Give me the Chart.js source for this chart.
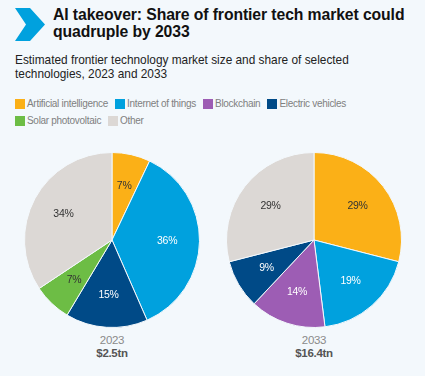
<!DOCTYPE html>
<html>
<head>
<meta charset="utf-8">
<script src="https://cdn.jsdelivr.net/npm/chart.js@4/dist/chart.umd.min.js"></script>
<style>
  html, body { margin:0; padding:0; }
  body { width:425px; height:376px; background:#f3f8fc; position:relative; overflow:hidden; font-family:"Liberation Sans", Arial, sans-serif; }
  #chev { position:absolute; left:15px; top:8px; }
  #title { position:absolute; left:53px; top:6px; width:372px; font-weight:bold; font-size:15.75px; line-height:17px; color:#111; letter-spacing:-0.1px; }
  #sub { position:absolute; left:15px; top:54px; width:400px; font-size:11.85px; line-height:13.5px; color:#222; }
  #legend { position:absolute; left:15px; top:95px; width:410px; font-size:10px; letter-spacing:-0.3px; color:#808080; }
  .row { display:flex; height:17px; align-items:center; }
  .item { display:flex; align-items:center; margin-right:7px; }
  .box { width:10px; height:10px; margin-right:2px; }
  .cap { position:absolute; width:120px; text-align:center; letter-spacing:-0.3px; }
  .yr { font-size:11.5px; color:#8a8a8a; line-height:13px; }
  .amt { font-size:11.5px; font-weight:bold; color:#555; line-height:13px; }
  canvas { position:absolute; }
</style>
</head>
<body>
<svg id="chev" width="31" height="33" viewBox="0 0 31 33"><polygon points="0,0 15,0 30,16.5 15,33 0,33 11,16.5" fill="#00a1de"/></svg>
<div id="title">AI takeover: Share of frontier tech market could quadruple by 2033</div>
<div id="sub">Estimated frontier technology market size and share of selected technologies, 2023 and 2033</div>
<div id="legend"></div>
<canvas id="c1" width="176" height="176" style="left:24px;top:152px;width:176px;height:176px"></canvas>
<canvas id="c2" width="176" height="176" style="left:226px;top:152px;width:176px;height:176px"></canvas>
<div class="cap" style="left:52px;top:334px"><div class="yr" id="y1"></div><div class="amt" id="a1"></div></div>
<div class="cap" style="left:254px;top:334px"><div class="yr" id="y2"></div><div class="amt" id="a2"></div></div>
<script>
const categories = ["Artificial intelligence", "Internet of things", "Blockchain", "Electric vehicles", "Solar photovoltaic", "Other"];
const colors = ["#fbb017", "#00a1de", "#9d5db4", "#004a87", "#6dbd45", "#dcd8d5"];
const labelColors = ["#333333", "#ffffff", "#ffffff", "#ffffff", "#333333", "#333333"];
const years = ["2023", "2033"];
const marketSize = ["$2.5tn", "$16.4tn"];
const share2023 = [7, 36, 0, 15, 7, 34];
const share2033 = [29, 19, 14, 9, 0, 29];

// legend
const legend = document.getElementById('legend');
const rows = [[0,1,2,3],[4,5]];
rows.forEach(r => {
  const row = document.createElement('div'); row.className = 'row';
  r.forEach(i => {
    const it = document.createElement('div'); it.className = 'item';
    const b = document.createElement('div'); b.className = 'box'; b.style.background = colors[i];
    const t = document.createElement('span'); t.textContent = categories[i];
    it.appendChild(b); it.appendChild(t); row.appendChild(it);
  });
  legend.appendChild(row);
});
document.getElementById('y1').textContent = years[0];
document.getElementById('y2').textContent = years[1];
document.getElementById('a1').textContent = marketSize[0];
document.getElementById('a2').textContent = marketSize[1];

const pctLabels = {
  id: 'pctLabels',
  afterDatasetsDraw(chart) {
    const ctx = chart.ctx;
    const meta = chart.getDatasetMeta(0);
    const data = chart.data.datasets[0].data;
    ctx.save();
    ctx.font = '10.5px "Liberation Sans", Arial, sans-serif';
    if ('letterSpacing' in ctx) ctx.letterSpacing = '-0.3px';
    ctx.textAlign = 'center';
    ctx.textBaseline = 'middle';
    meta.data.forEach((arc, i) => {
      if (!data[i]) return;
      const p = arc.getProps(['x','y','startAngle','endAngle','outerRadius'], true);
      const mid = (p.startAngle + p.endAngle) / 2;
      const r = p.outerRadius * 0.63;
      ctx.fillStyle = labelColors[i];
      ctx.fillText(data[i] + '%', p.x + Math.cos(mid) * r, p.y + Math.sin(mid) * r);
    });
    ctx.restore();
  }
};

function makePie(id, values) {
  new Chart(document.getElementById(id), {
    type: 'pie',
    data: { labels: categories, datasets: [{ data: values, backgroundColor: colors, borderColor: '#f3f8fc', borderWidth: 1 }] },
    options: {
      responsive: false, animation: false,
      layout: { padding: 0 },
      plugins: { legend: { display: false }, tooltip: { enabled: false } }
    },
    plugins: [pctLabels]
  });
}
makePie('c1', share2023);
makePie('c2', share2033);
</script>
</body>
</html>
